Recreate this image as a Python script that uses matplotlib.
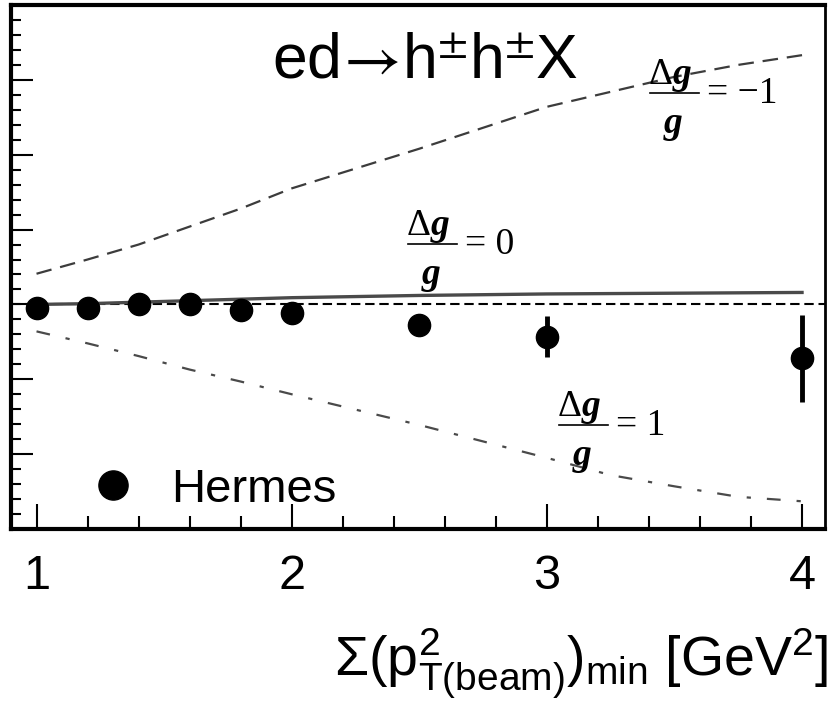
import matplotlib
matplotlib.use('Agg')
import matplotlib.pyplot as plt
from matplotlib.ticker import MultipleLocator
from matplotlib.lines import Line2D

plt.rcParams['font.family'] = ['Liberation Sans', 'DejaVu Sans']
plt.rcParams['mathtext.fontset'] = 'custom'
plt.rcParams['mathtext.rm'] = 'Liberation Sans'
plt.rcParams['mathtext.it'] = 'Liberation Sans:italic'
plt.rcParams['mathtext.bf'] = 'Liberation Sans:bold'

# Hermes points
pt_min = [1.0, 1.2, 1.4, 1.6, 1.8, 2.0, 2.5, 3.0, 4.0]
a_ll = [-0.005, -0.005, 0.0, 0.0, -0.008, -0.011, -0.028, -0.043, -0.072]
a_err = [0.004, 0.005, 0.006, 0.007, 0.008, 0.009, 0.013, 0.027, 0.058]

# model curves
curve_x = [1.0, 1.2, 1.4, 1.6, 1.8, 2.0, 2.5, 3.0, 3.25, 3.5, 3.75, 4.0]
dg_minus1 = [0.041, 0.060, 0.080, 0.104, 0.128, 0.155, 0.208, 0.264, 0.284, 0.304, 0.320, 0.333]
dg_zero = [0.0, 0.001, 0.003, 0.005, 0.007, 0.009, 0.012, 0.014, 0.0145, 0.015, 0.0155, 0.016]
dg_plus1 = [-0.036, -0.052, -0.069, -0.087, -0.103, -0.120, -0.161, -0.205, -0.228, -0.243, -0.257, -0.263]

W, H = 829, 701


def fx(x):
    return x / W


def fy(y):
    return 1 - y / H


fig = plt.figure(figsize=(W / 100, H / 100), dpi=100)
ax = fig.add_axes([fx(11), fy(529), 814 / W, 524 / H])
ax.set_xlim(0.9, 4.09)
ax.set_ylim(-0.3, 0.4)

ax.axhline(0, color='black', lw=1.5, dashes=(4.5, 2.3))
ax.plot(curve_x, dg_minus1, color='#3c3c3c', lw=1.6, dashes=(7, 4))
ax.plot(curve_x, dg_zero, color='#4a4a4a', lw=2.4)
ax.plot(curve_x, dg_plus1, color='#4a4a4a', lw=1.6, dashes=(6.2, 7.2, 1.9, 7.2))
ax.errorbar(pt_min, a_ll, yerr=a_err, fmt='o', color='black', ms=16,
            elinewidth=3.5, capsize=0, zorder=5)

# ticks
ax.xaxis.set_major_locator(MultipleLocator(1))
ax.xaxis.set_minor_locator(MultipleLocator(0.2))
ax.yaxis.set_major_locator(MultipleLocator(0.1))
ax.yaxis.set_minor_locator(MultipleLocator(0.02))
ax.tick_params(axis='x', which='both', direction='in', top=False, width=1.5,
               labelsize=35, pad=18)
ax.tick_params(axis='x', which='major', length=18)
ax.tick_params(axis='x', which='minor', length=9.5)
ax.tick_params(axis='y', which='both', direction='in', right=False,
               labelleft=False, width=1.5)
ax.tick_params(axis='y', which='major', length=16)
ax.tick_params(axis='y', which='minor', length=7)

for s in ['left', 'bottom', 'top']:
    ax.spines[s].set_linewidth(3)
ax.spines['right'].set_linewidth(2)

# legend
h = Line2D([], [], marker='o', ls='none', color='black', ms=21)
ax.legend([h], ['Hermes'], loc='center left', bbox_to_anchor=(fx(89), fy(490)),
          bbox_transform=fig.transFigure, frameon=False, fontsize=34,
          handlelength=1.0, handletextpad=0.74, borderpad=0, borderaxespad=0)

# title
fig.text(fx(272), fy(78), r'ed$\!\rightarrow\!$h$^{\pm}$h$^{\pm}$X', fontsize=45,
         math_fontfamily='stixsans', ha='left', va='baseline')


def dg_label(xl, xr, ybar, rhs):
    xc = (xl + xr) / 2 - 2
    fig.text(fx(xc), fy(ybar - 9), '\u0394', family='Liberation Serif', fontsize=27,
             ha='right', va='baseline')
    fig.text(fx(xc), fy(ybar - 9), 'g', family='Liberation Serif', fontsize=27,
             weight='bold', style='italic', ha='left', va='baseline')
    fig.add_artist(Line2D([fx(xl), fx(xr)], [fy(ybar), fy(ybar)], color='black', lw=1.2))
    fig.text(fx(xc + 1), fy(ybar + 40), 'g', family='Liberation Serif', fontsize=27,
             weight='bold', style='italic', ha='center', va='baseline')
    fig.text(fx(xr + 8), fy(ybar + 10), rhs, family='Liberation Serif', fontsize=27,
             ha='left', va='baseline')


dg_label(650, 699, 93, '= \u22121')
dg_label(408, 457, 244, '= 0')
dg_label(559, 608, 425, '= 1')

# x label
fig.text(fx(828), fy(675), r'$\Sigma(\mathrm{p}^2_{\mathrm{T(beam)}})_{\mathrm{min}}$ [GeV$^2$]',
         fontsize=40, ha='right', va='baseline')

fig.savefig('out.png', dpi=100)
